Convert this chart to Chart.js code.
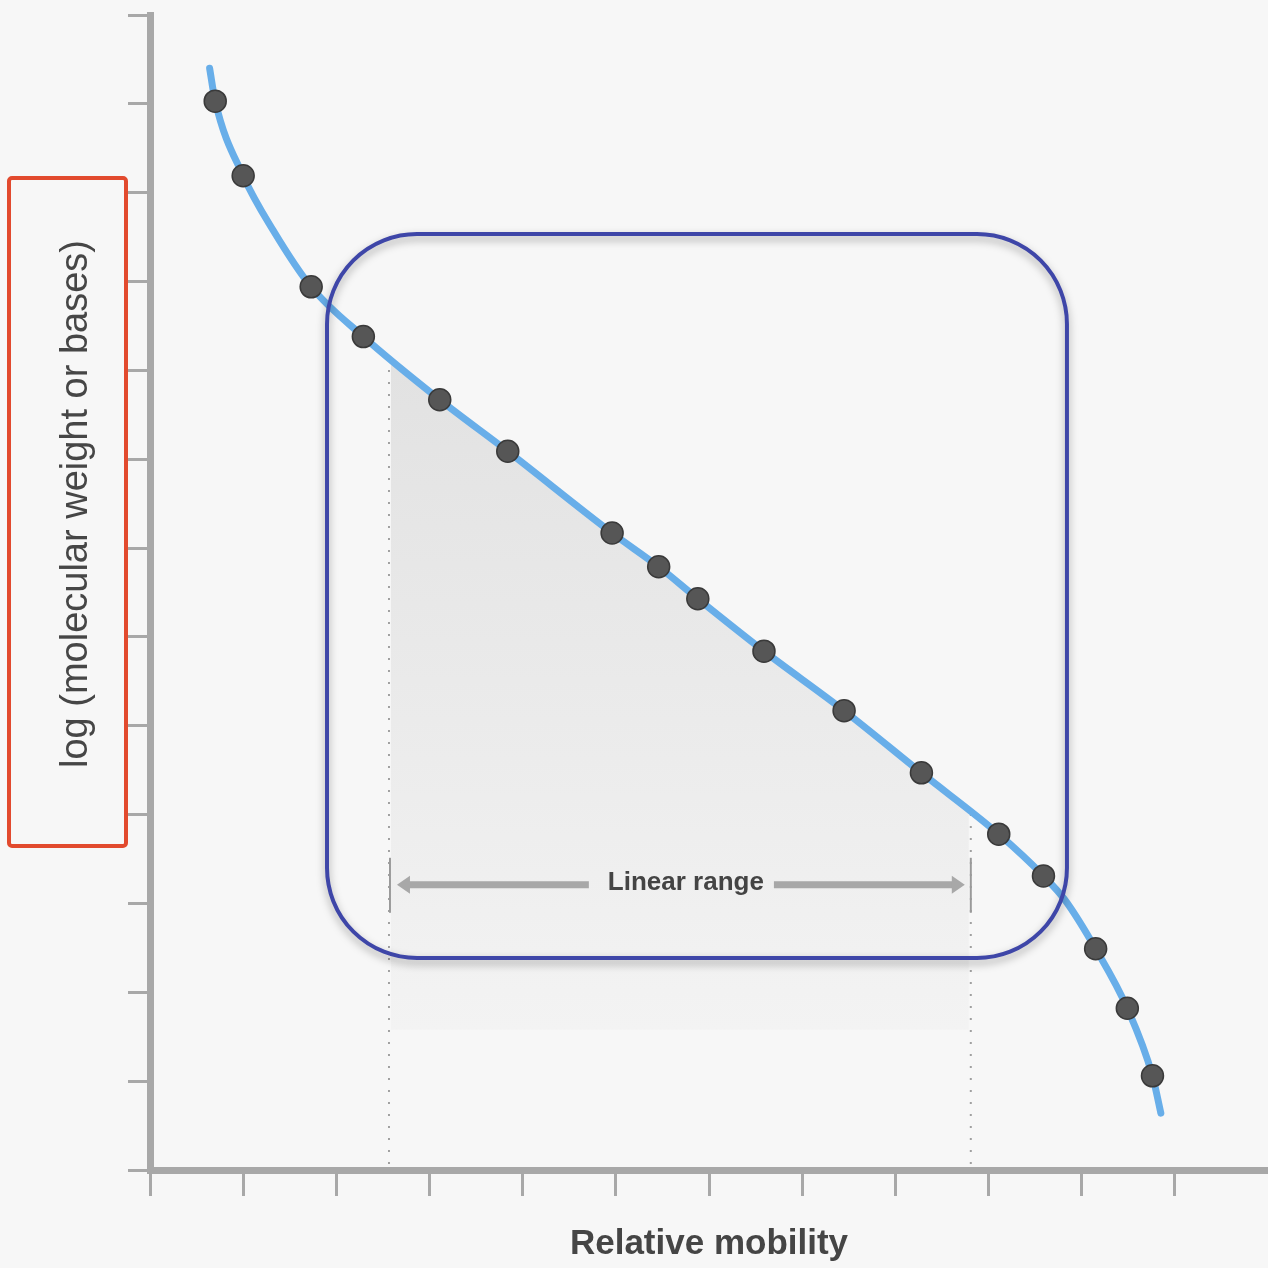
<!DOCTYPE html>
<html>
<head>
<meta charset="utf-8">
<title>Relative mobility</title>
<script src="https://cdn.jsdelivr.net/npm/chart.js@4.4.0/dist/chart.umd.min.js"></script>
<style>
  html, body { margin: 0; padding: 0; background: #f7f7f7; }
  #wrap { width: 1268px; height: 1268px; }
</style>
</head>
<body>
<div id="wrap"><canvas id="grafico" width="1268" height="1268"></canvas></div>
<script>
// Standards (dots): relative mobility vs log size, in axis units
const movilidad = [0.70, 1.00, 1.73, 2.29, 3.11, 3.84, 4.96, 5.46, 5.88, 6.59, 7.45, 8.28, 9.11, 9.59, 10.15, 10.49, 10.76];
const logTamano = [12.03, 11.19, 9.94, 9.38, 8.67, 8.09, 7.17, 6.79, 6.43, 5.84, 5.17, 4.47, 3.78, 3.31, 2.49, 1.82, 1.06];

// Fitted curve (blue)
const curvaX = [0.64, 0.70, 1.00, 1.32, 1.73, 2.29, 3.11, 3.84, 4.96, 5.46, 5.88, 6.59, 7.45, 8.28, 9.11, 9.59, 9.82, 10.15, 10.49, 10.76, 10.85];
const curvaY = [12.40, 12.03, 11.19, 10.58, 9.94, 9.38, 8.67, 8.09, 7.17, 6.79, 6.43, 5.84, 5.17, 4.47, 3.78, 3.31, 3.04, 2.49, 1.82, 1.06, 0.64];

// Tick marks (no labels)
const ticksX = [0, 1, 2, 3, 4, 5, 6, 7, 8, 9, 10, 11];
const ticksY = [0, 1, 2, 3, 4, 5, 6, 7, 8, 9, 10, 11, 12, 13];

// Linear range
const rangoInicio = 2.565;
const rangoFin = 8.81;
const rangoTexto = 'Linear range';
const tituloX = 'Relative mobility';
const tituloY = 'log (molecular weight or bases)';

const gris = '#a8a8a8';

function rectRedondo(ctx, x, y, w, h, r) {
    ctx.beginPath();
    ctx.moveTo(x + r, y);
    ctx.arcTo(x + w, y, x + w, y + h, r);
    ctx.arcTo(x + w, y + h, x, y + h, r);
    ctx.arcTo(x, y + h, x, y, r);
    ctx.arcTo(x, y, x + w, y, r);
    ctx.closePath();
}

// Shading, dotted guides, arrow, boxes and y title
const anotaciones = {
    id: 'anotaciones',
    beforeDatasetsDraw(chart) {
        const { ctx, chartArea, scales: { x, y } } = chart;
        const puntos = chart.getDatasetMeta(1).data;
        const x1 = x.getPixelForValue(rangoInicio);
        const x2 = x.getPixelForValue(rangoFin);

        ctx.save();
        ctx.beginPath();
        puntos.forEach((p, i) => i ? ctx.lineTo(p.x, p.y) : ctx.moveTo(p.x, p.y));
        ctx.lineTo(puntos[puntos.length - 1].x, chartArea.bottom);
        ctx.lineTo(puntos[0].x, chartArea.bottom);
        ctx.closePath();
        ctx.clip();

        const yBase = y.getPixelForValue(1.58);
        const grad = ctx.createLinearGradient(0, y.getPixelForValue(9), 0, yBase);
        grad.addColorStop(0, '#e2e2e2');
        grad.addColorStop(1, '#f3f3f3');
        ctx.fillStyle = grad;
        ctx.fillRect(x1 + 2, chartArea.top, x2 - x1 - 4, yBase - chartArea.top);

        ctx.strokeStyle = '#a0a0a0';
        ctx.lineWidth = 2;
        ctx.setLineDash([2, 10]);
        [x1, x2].forEach(px => {
            ctx.beginPath();
            ctx.moveTo(px, chartArea.bottom - 6);
            ctx.lineTo(px, chartArea.top);
            ctx.stroke();
        });
        ctx.restore();

        // arrow + label
        const ya = y.getPixelForValue(3.21);
        ctx.save();
        ctx.font = 'bold 26px "Liberation Sans"';
        ctx.textAlign = 'center';
        ctx.textBaseline = 'middle';
        const xc = (x1 + x2) / 2 + 6;
        const ancho = ctx.measureText(rangoTexto).width;
        ctx.fillStyle = '#444444';
        ctx.fillText(rangoTexto, xc, ya - 2);

        ctx.strokeStyle = gris;
        ctx.fillStyle = gris;
        ctx.lineWidth = 7;
        const izq = x1 + 8, der = x2 - 6;
        ctx.beginPath();
        ctx.moveTo(izq + 10, ya);
        ctx.lineTo(xc - ancho / 2 - 19, ya);
        ctx.moveTo(xc + ancho / 2 + 10, ya);
        ctx.lineTo(der - 10, ya);
        ctx.stroke();
        ctx.beginPath();
        ctx.moveTo(izq, ya);
        ctx.lineTo(izq + 13, ya - 9);
        ctx.lineTo(izq + 13, ya + 9);
        ctx.closePath();
        ctx.moveTo(der, ya);
        ctx.lineTo(der - 13, ya - 9);
        ctx.lineTo(der - 13, ya + 9);
        ctx.closePath();
        ctx.fill();

        ctx.strokeStyle = '#9a9a9a';
        ctx.lineWidth = 2;
        [x1 + 1, x2].forEach(px => {
            ctx.beginPath();
            ctx.moveTo(px, ya - 27);
            ctx.lineTo(px, ya + 28);
            ctx.stroke();
        });
        ctx.restore();
    },
    afterDatasetsDraw(chart) {
        const { ctx, scales: { x, y } } = chart;

        // blue highlight box
        const bx1 = x.getPixelForValue(1.90), bx2 = x.getPixelForValue(9.842);
        const by1 = y.getPixelForValue(10.535), by2 = y.getPixelForValue(2.386);
        ctx.save();
        ctx.shadowColor = 'rgba(0, 0, 0, 0.35)';
        ctx.shadowBlur = 8;
        ctx.shadowOffsetY = 4;
        ctx.strokeStyle = '#3e46a8';
        ctx.lineWidth = 4;
        rectRedondo(ctx, bx1, by1, bx2 - bx1, by2 - by1, 90);
        ctx.stroke();
        ctx.restore();

        // red box round the y title
        ctx.save();
        ctx.strokeStyle = '#e24a2e';
        ctx.lineWidth = 4;
        rectRedondo(ctx, 9, 178, 117, 668, 3);
        ctx.stroke();

        ctx.translate(87, 504);
        ctx.rotate(-Math.PI / 2);
        ctx.font = '38px "Liberation Sans"';
        ctx.fillStyle = '#464646';
        ctx.textAlign = 'center';
        ctx.textBaseline = 'alphabetic';
        ctx.fillText(tituloY, 0, 0);
        ctx.restore();
    }
};

Chart.defaults.font.family = '"Liberation Sans", Arial, sans-serif';

const ctx = document.getElementById('grafico').getContext('2d');
const chart = new Chart(ctx, {
    type: 'scatter',
    data: {
        datasets: [
            {
                label: 'Standards',
                data: movilidad.map((v, i) => ({ x: v, y: logTamano[i] })),
                pointRadius: 11,
                backgroundColor: '#565656',
                borderColor: '#3a3a3a',
                borderWidth: 1.5,
                order: 0
            },
            {
                type: 'line',
                label: 'Curve',
                data: curvaX.map((v, i) => ({ x: v, y: curvaY[i] })),
                borderColor: '#68aee9',
                borderWidth: 7,
                borderCapStyle: 'round',
                pointRadius: 0,
                fill: false,
                cubicInterpolationMode: 'monotone',
                order: 1
            }
        ]
    },
    options: {
        responsive: false,
        animation: false,
        devicePixelRatio: 1,
        events: [],
        layout: { autoPadding: false, padding: { top: 15, right: 0, left: 0, bottom: 0 } },
        plugins: {
            legend: { display: false },
            tooltip: { enabled: false }
        },
        scales: {
            x: {
                type: 'linear',
                min: 0,
                max: 12,
                afterBuildTicks: s => { s.ticks = ticksX.map(v => ({ value: v })); },
                afterFit: s => { s.height = 98; },
                ticks: { display: false },
                grid: {
                    drawOnChartArea: false,
                    drawTicks: true,
                    tickLength: 26,
                    color: gris,
                    tickColor: gris,
                    lineWidth: 3,
                    tickWidth: 3
                },
                border: { color: gris, width: 7 },
                title: {
                    display: true,
                    text: tituloX,
                    color: '#454545',
                    font: { size: 35, weight: 'bold' },
                    padding: { top: 0, bottom: 3 }
                }
            },
            y: {
                type: 'linear',
                min: 0,
                max: 13,
                afterBuildTicks: s => { s.ticks = ticksY.map(v => ({ value: v })); },
                afterFit: s => { s.width = 150; },
                ticks: { display: false },
                grid: {
                    drawOnChartArea: false,
                    drawTicks: true,
                    tickLength: 22,
                    color: gris,
                    tickColor: gris,
                    lineWidth: 3,
                    tickWidth: 3
                },
                border: { color: gris, width: 7 }
            }
        }
    },
    plugins: [anotaciones]
});
</script>
</body>
</html>
